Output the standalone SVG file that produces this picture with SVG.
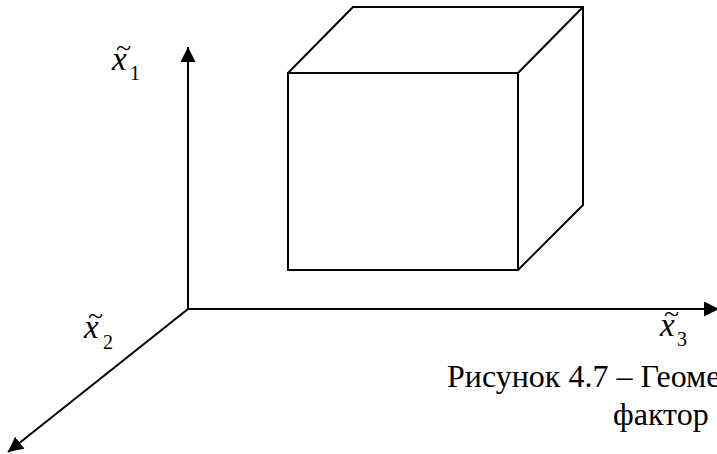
<svg xmlns="http://www.w3.org/2000/svg" width="717" height="454" viewBox="0 0 717 454">
<style>
.ln{stroke:#000;stroke-width:2;fill:none}
.lab{font-family:"Liberation Serif","Times New Roman",serif;fill:#000}
.v{font-style:italic;font-size:33px}
.t{font-size:28px}
.s{font-size:20px}
.cap{font-family:"Liberation Serif","Times New Roman",serif;font-size:32px;fill:#000}
</style>
<defs>
<marker id="ah" viewBox="0 0 10 10" refX="10" refY="5" markerWidth="15" markerHeight="15" markerUnits="userSpaceOnUse" orient="auto">
<path d="M0,0 L10,5 L0,10 Z" fill="#000"/>
</marker>
</defs>
<rect width="717" height="454" fill="#fff"/>
<g id="connectors">
<line class="ln" x1="188" y1="309" x2="188" y2="47" marker-end="url(#ah)"/>
<line class="ln" x1="187" y1="309" x2="719" y2="309" marker-end="url(#ah)"/>
<line class="ln" x1="188" y1="309" x2="8" y2="452" marker-end="url(#ah)"/>
</g>
<g id="cube">
<rect class="ln" x="288" y="73" width="230" height="197"/>
<polyline class="ln" points="288,73 353,7 583,7 583,205 518,270"/>
<line class="ln" x1="518" y1="73" x2="583" y2="7"/>
</g>
<g id="label-x1">
<text class="lab"><tspan class="v" x="112" y="70">x</tspan><tspan class="t" x="116" y="57">~</tspan><tspan class="s" x="130" y="80">1</tspan></text>
</g>
<g id="label-x2">
<text class="lab"><tspan class="v" x="84" y="338">x</tspan><tspan class="t" x="88" y="325">~</tspan><tspan class="s" x="103" y="349">2</tspan></text>
</g>
<g id="label-x3">
<text class="lab"><tspan class="v" x="660" y="336">x</tspan><tspan class="t" x="664" y="323">~</tspan><tspan class="s" x="677" y="346">3</tspan></text>
</g>
<g id="caption">
<text class="cap" x="447" y="387">Рисунок 4.7 – Геоме</text>
<text class="cap" x="613" y="425">фактор</text>
</g>
</svg>
